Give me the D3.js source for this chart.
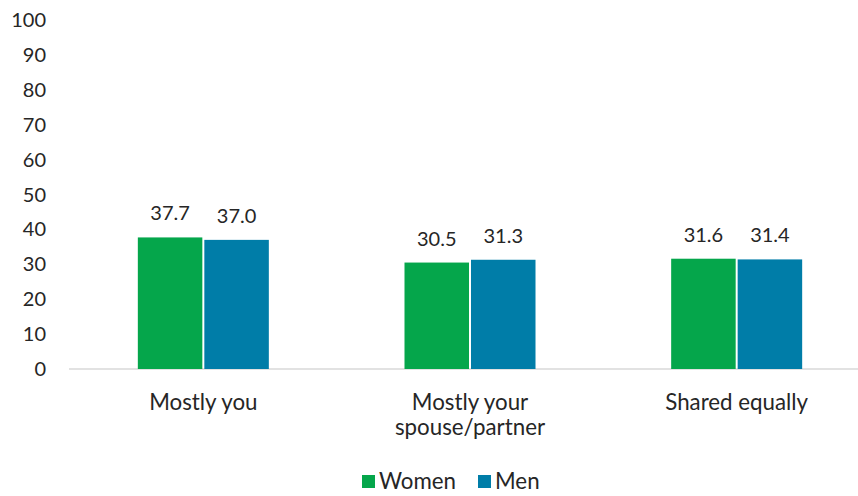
<!DOCTYPE html>
<html><head><meta charset="utf-8">
<script src="https://cdn.jsdelivr.net/npm/d3@7"></script>
<style>body{margin:0;background:#fff}text{font-family:Lato,"Open Sans",sans-serif;fill:#262626}</style>
</head><body><svg id="c" width="858" height="496"></svg>
<script>
const categories = [["Mostly you"], ["Mostly your", "spouse/partner"], ["Shared equally"]];
const seriesNames = ["Women", "Men"];
const women = [37.7, 30.5, 31.6];
const men = [37.0, 31.3, 31.4];
const yTicks = [0,10,20,30,40,50,60,70,80,90,100];
const colors = ["#05A64B", "#007DA8"];
const fs = 20, fsText = 22.3;

const svg = d3.select("#c");
const x = d3.scaleBand().domain(d3.range(categories.length)).range([70, 870]);
const y = d3.scaleLinear().domain([0,100]).range([369, 20]);
const xs = d3.scaleBand().domain(seriesNames).range([0, 131]).paddingInner(0.03);
const series = [women, men];

svg.append("line").attr("x1",69).attr("x2",858).attr("y1",y(0)).attr("y2",y(0)).attr("stroke","#d9d9d9").attr("stroke-width",1.5);

svg.selectAll(".yt").data(yTicks).enter().append("text")
  .attr("x",46).attr("y",d=>y(d)).attr("dy","0.35em").attr("text-anchor","end")
  .attr("font-size",fs).text(d=>d);

series.forEach((vals,si)=>{
  vals.forEach((v,ci)=>{
    const cx = x(ci) + x.bandwidth()/2 - 65.5 + xs(seriesNames[si]);
    svg.append("rect").attr("x",cx).attr("y",y(v)).attr("width",xs.bandwidth()).attr("height",y(0)-y(v)).attr("fill",colors[si]);
    svg.append("text").attr("x",cx+xs.bandwidth()/2).attr("y",y(v)-17).attr("text-anchor","middle").attr("font-size",fs).text(v.toFixed(1));
  });
});

categories.forEach((lines,ci)=>{
  const t = svg.append("text").attr("x",x(ci)+x.bandwidth()/2).attr("y",410).attr("text-anchor","middle").attr("font-size",fsText);
  lines.forEach((l,i)=>t.append("tspan").attr("x",x(ci)+x.bandwidth()/2).attr("dy",i?25:0).text(l));
});

const leg = [{n:"Women",x:362},{n:"Men",x:478}];
leg.forEach((d,i)=>{
  svg.append("rect").attr("x",d.x).attr("y",475).attr("width",13).attr("height",13).attr("fill",colors[i]);
  svg.append("text").attr("x",d.x+17).attr("y",489).attr("font-size",fsText).text(d.n);
});
</script></body></html>
